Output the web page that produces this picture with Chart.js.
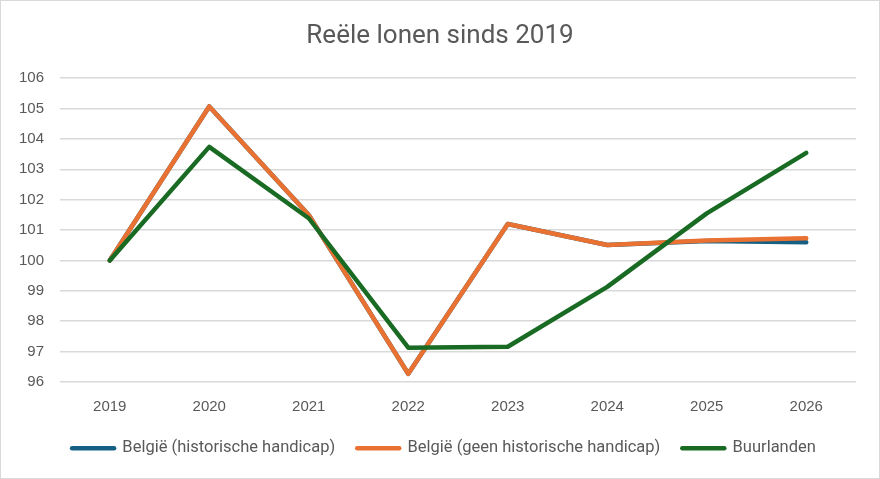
<!DOCTYPE html>
<html>
<head>
<meta charset="utf-8">
<script src="https://cdn.jsdelivr.net/npm/chart.js@4.4.1/dist/chart.umd.min.js"></script>
<style>
  html, body { margin: 0; padding: 0; background: #fff; }
  .wrap { width: 880px; height: 479px; box-sizing: border-box; border: 1px solid #d9d9d9; position: relative; }
  canvas { display: block; }
</style>
</head>
<body>
<div class="wrap"><canvas id="loonChart" width="878" height="477"></canvas></div>
<script>
// Reële lonen, index 2019 = 100
const jaren = ['2019', '2020', '2021', '2022', '2023', '2024', '2025', '2026'];
const belgieHistorisch = [100, 105.07, 101.5, 96.27, 101.2, 100.51, 100.64, 100.60];
const belgieZonder = [100, 105.07, 101.5, 96.27, 101.2, 100.51, 100.66, 100.73];
const buurlanden = [100, 103.74, 101.39, 97.13, 97.16, 99.13, 101.55, 103.54];

const tekstKleur = '#595959';

// legend compacter in de hoogte; titel en legend gecentreerd over de hele breedte
const opmaak = {
    id: 'opmaak',
    afterInit: (chart) => {
        const fit = chart.legend.fit;
        chart.legend.fit = function () {
            fit.call(this);
            this.height = 48;
        };
    },
    afterLayout: (chart) => {
        chart.titleBlock.left = 0;
        chart.titleBlock.right = chart.width;
        chart.titleBlock.width = chart.width;
        chart.legend.left = 8;
        chart.legend.right = chart.width;
        chart.legend.width = chart.width - 8;
    }
};

const ctx = document.getElementById('loonChart').getContext('2d');
const loonChart = new Chart(ctx, {
    type: 'line',
    data: {
        labels: jaren,
        datasets: [{
            label: 'België (historische handicap)',
            data: belgieHistorisch,
            borderColor: '#156082',
            order: 2
        }, {
            label: 'België (geen historische handicap)',
            data: belgieZonder,
            borderColor: '#E97132',
            order: 1
        }, {
            label: 'Buurlanden',
            data: buurlanden,
            borderColor: '#196B24',
            order: 0
        }]
    },
    options: {
        responsive: false,
        animation: false,
        layout: { padding: { left: 0, right: 23, top: 0, bottom: 12 } },
        elements: {
            line: { borderWidth: 4.5, tension: 0, borderCapStyle: 'round', borderJoinStyle: 'round' },
            point: { radius: 0, hoverRadius: 0 }
        },
        scales: {
            x: {
                offset: true,
                grid: { display: false, drawTicks: false },
                border: { display: false },
                ticks: { color: tekstKleur, font: { family: 'Liberation Sans', size: 15 }, padding: 16, maxRotation: 0 },
                afterFit: (scale) => { scale.height = 36; }
            },
            y: {
                min: 96,
                max: 106,
                ticks: { stepSize: 1, color: tekstKleur, font: { family: 'Liberation Sans', size: 15 }, padding: 16 },
                grid: { color: '#d9d9d9', lineWidth: 1.5, drawTicks: false },
                border: { display: false },
                afterFit: (scale) => { scale.width = 59; }
            }
        },
        plugins: {
            title: {
                display: true,
                text: 'Reële lonen sinds 2019',
                color: tekstKleur,
                font: { family: 'Roboto', size: 26, weight: 'normal' },
                padding: { top: 20, bottom: 26 }
            },
            legend: {
                position: 'bottom',
                labels: {
                    color: tekstKleur,
                    font: { family: 'Roboto', size: 16.5 },
                    usePointStyle: true,
                    pointStyleWidth: 42,
                    padding: 22,
                    generateLabels: (chart) => chart.data.datasets.map((ds, i) => ({
                        text: ds.label,
                        strokeStyle: ds.borderColor,
                        fillStyle: ds.borderColor,
                        fontColor: tekstKleur,
                        lineWidth: 4.5,
                        lineCap: 'round',
                        pointStyle: 'line',
                        hidden: false,
                        datasetIndex: i
                    }))
                }
            },
            tooltip: { enabled: false }
        }
    },
    plugins: [opmaak]
});
</script>
</body>
</html>
